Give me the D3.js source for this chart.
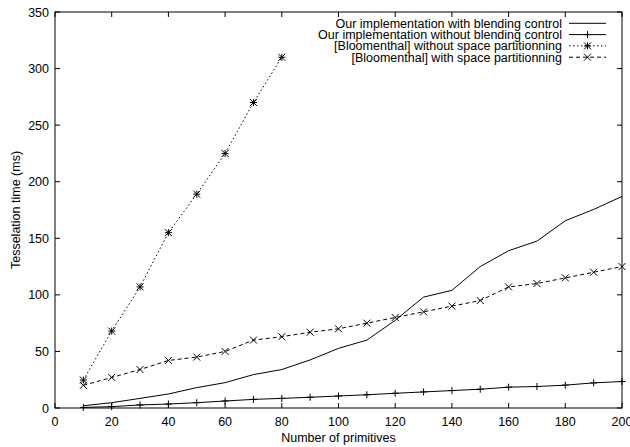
<!DOCTYPE html>
<html><head><meta charset="utf-8">
<script src="https://cdn.jsdelivr.net/npm/d3@7"></script>
<style>body{margin:0;background:#fff}svg{display:block}text{font-family:"Liberation Sans",Arial,sans-serif;font-size:12.5px;fill:#000}</style>
</head><body>
<svg id="c" width="630" height="447"></svg>
<script>
const xs = [10,20,30,40,50,60,70,80,90,100,110,120,130,140,150,160,170,180,190,200];
const withBlending = [2,4.7,8.5,12.4,18,22.4,29.5,34,42.5,52.7,60,77.5,98,104,125,139,147.5,165.5,175.5,187];
const withoutBlending = [0.5,1.2,2.7,3.5,4.7,6.2,7.6,8.5,9.5,10.6,11.7,13,14.2,15.4,16.6,18.4,19,20.2,22.2,23.4];
const bloomNoPartX = [10,20,30,40,50,60,70,80];
const bloomNoPart = [24.7,68,107,155,189,225,270,310];
const bloomPart = [20,27,34,42,45,50,60,63,67,70,75,80,85,90,95,107,110,115,120,125];
const xTicks = [0,20,40,60,80,100,120,140,160,180,200];
const yTicks = [0,50,100,150,200,250,300,350];
const labels = ["Our implementation with blending control","Our implementation without blending control","[Bloomenthal] without space partitionning","[Bloomenthal] with space partitionning"];

const svg = d3.select("#c");
const L=55,R=622,T=12,B=408;
const x = d3.scaleLinear().domain([0,200]).range([L,R]);
const y = d3.scaleLinear().domain([0,350]).range([B,T]);
const tl = 5;

const g = svg.append("g");
xTicks.forEach(t=>{
  g.append("line").attr("x1",x(t)).attr("x2",x(t)).attr("y1",B).attr("y2",B-tl).attr("stroke","#000");
  g.append("line").attr("x1",x(t)).attr("x2",x(t)).attr("y1",T).attr("y2",T+tl).attr("stroke","#000");
  g.append("text").attr("x",x(t)).attr("y",B+18).attr("text-anchor","middle").text(t);
});
yTicks.forEach(t=>{
  g.append("line").attr("x1",L).attr("x2",L+tl).attr("y1",y(t)).attr("y2",y(t)).attr("stroke","#000");
  g.append("line").attr("x1",R).attr("x2",R-tl).attr("y1",y(t)).attr("y2",y(t)).attr("stroke","#000");
  g.append("text").attr("x",L-6).attr("y",y(t)+4.5).attr("text-anchor","end").text(t);
});
g.append("rect").attr("x",L).attr("y",T).attr("width",R-L).attr("height",B-T).attr("fill","none").attr("stroke","#000");

svg.append("text").attr("x",(L+R)/2).attr("y",442).attr("text-anchor","middle").text("Number of primitives");
svg.append("text").attr("transform",`translate(20,${(T+B)/2}) rotate(-90)`).attr("text-anchor","middle").text("Tesselation time (ms)");

const line = d3.line().x(d=>x(d[0])).y(d=>y(d[1]));
function marker(sel,type,cx,cy){
  const s=3.5;
  if(type==="plus"||type==="star"){
    sel.append("line").attr("x1",cx-s).attr("x2",cx+s).attr("y1",cy).attr("y2",cy).attr("stroke","#000");
    sel.append("line").attr("x1",cx).attr("x2",cx).attr("y1",cy-s).attr("y2",cy+s).attr("stroke","#000");
  }
  if(type==="cross"||type==="star"){
    sel.append("line").attr("x1",cx-s).attr("x2",cx+s).attr("y1",cy-s).attr("y2",cy+s).attr("stroke","#000");
    sel.append("line").attr("x1",cx-s).attr("x2",cx+s).attr("y1",cy+s).attr("y2",cy-s).attr("stroke","#000");
  }
}
const series = [
  {xv:xs,yv:withBlending,dash:null,m:null},
  {xv:xs,yv:withoutBlending,dash:null,m:"plus"},
  {xv:bloomNoPartX,yv:bloomNoPart,dash:"1.5,2.5",m:"star"},
  {xv:xs,yv:bloomPart,dash:"4,3",m:"cross"}
];
series.forEach((s,i)=>{
  const pts = s.xv.map((v,j)=>[v,s.yv[j]]);
  svg.append("path").datum(pts).attr("d",line).attr("fill","none").attr("stroke","#000").attr("stroke-width",1).attr("stroke-dasharray",s.dash);
  if(s.m){ const mg=svg.append("g"); pts.forEach(p=>marker(mg,s.m,x(p[0]),y(p[1]))); }
  const ly = 23.3 + i*11.3;
  svg.append("text").attr("x",562).attr("y",ly+4.5).attr("text-anchor","end").text(labels[i]);
  svg.append("line").attr("x1",569).attr("x2",606).attr("y1",ly).attr("y2",ly).attr("stroke","#000").attr("stroke-dasharray",s.dash);
  if(s.m){ marker(svg.append("g"),s.m,587.5,ly); }
});
</script>
</body></html>
